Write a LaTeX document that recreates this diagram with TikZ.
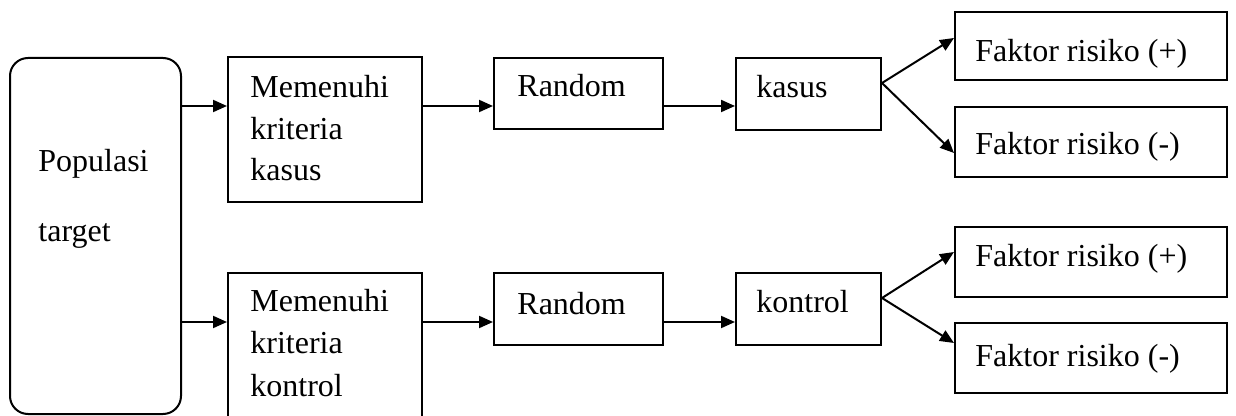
\documentclass[tikz,border=0pt]{standalone}
\usepackage{fontspec}
\setmainfont{Liberation Serif}
\usetikzlibrary{arrows.meta}
\begin{document}
\begin{tikzpicture}[x=0.5pt,y=-0.5pt,
  box/.style={draw, line width=1pt, rectangle, inner sep=0pt},
  rbox/.style={box, rounded corners=9pt},
  lbl/.style={anchor=base west, inner sep=0pt, font=\fontsize{16}{19}\selectfont},
  arr/.style={line width=1pt, -{Triangle[length=7pt,width=6pt]}}]
\useasboundingbox (0,0) rectangle (1236,416);
\clip (0,0) rectangle (1236,416);

% boxes
\node[rbox, minimum width=85.5pt, minimum height=178pt] (pop) at (95.5,236) {};
\node[box, minimum width=97pt, minimum height=72.5pt] (mk1) at (325,129.5) {};
\node[box, minimum width=97pt, minimum height=83.5pt] (mk2) at (325,356.5) {};
\node[box, minimum width=84.5pt, minimum height=35.5pt] (r1) at (578.5,93.5) {};
\node[box, minimum width=84.5pt, minimum height=36pt] (r2) at (578.5,309) {};
\node[box, minimum width=72.5pt, minimum height=36pt] (kasus) at (808.5,94) {};
\node[box, minimum width=72.5pt, minimum height=36pt] (kontrol) at (808.5,309) {};
\node[box, minimum width=136pt, minimum height=34pt] (fp1) at (1091,46) {};
\node[box, minimum width=136pt, minimum height=35pt] (fm1) at (1091,142) {};
\node[box, minimum width=136pt, minimum height=35pt] (fp2) at (1091,262) {};
\node[box, minimum width=136pt, minimum height=35pt] (fm2) at (1091,358) {};

% texts
\node[lbl] (tpop1) at (38,172) {Populasi};
\node[lbl] (tpop2) at (38,242) {target};
\node[lbl] (tmk1a) at (250,98) {Memenuhi};
\node[lbl] (tmk1b) at (250,140) {kriteria};
\node[lbl] (tmk1c) at (250,181) {kasus};
\node[lbl] (tmk2a) at (250,312) {Memenuhi};
\node[lbl] (tmk2b) at (250,354) {kriteria};
\node[lbl] (tmk2c) at (250,397) {kontrol};
\node[lbl] (tr1) at (517,97) {Random};
\node[lbl] (tr2) at (517,315) {Random};
\node[lbl] (tkasus) at (756,98) {kasus};
\node[lbl] (tkontrol) at (756,313) {kontrol};
\node[lbl] (tfp1) at (975,62) {Faktor risiko (+)};
\node[lbl] (tfm1) at (975,155) {Faktor risiko (-)};
\node[lbl] (tfp2) at (975,267) {Faktor risiko (+)};
\node[lbl] (tfm2) at (975,367) {Faktor risiko (-)};

% row levels of the horizontal arrows
\coordinate (ra) at (0,106);
\coordinate (rb) at (0,322);

\draw[arr] (pop.east |- ra) -- (mk1.west |- ra);
\draw[arr] (mk1.east |- ra) -- (r1.west |- ra);
\draw[arr] (r1.east |- ra) -- (kasus.west |- ra);
\draw[arr] (pop.east |- rb) -- (mk2.west |- rb);
\draw[arr] (mk2.east |- rb) -- (r2.west |- rb);
\draw[arr] (r2.east |- rb) -- (kontrol.west |- rb);

% branches to the risk factor boxes
\draw[arr] ([yshift=5.5pt]kasus.east) -- ([yshift=4pt]fp1.west);
\draw[arr] ([yshift=5.5pt]kasus.east) -- ([yshift=-5.5pt]fm1.west);
\draw[arr] ([yshift=5.5pt]kontrol.east) -- ([yshift=5pt]fp2.west);
\draw[arr] ([yshift=5.5pt]kontrol.east) -- ([yshift=7.5pt]fm2.west);
\end{tikzpicture}
\end{document}
